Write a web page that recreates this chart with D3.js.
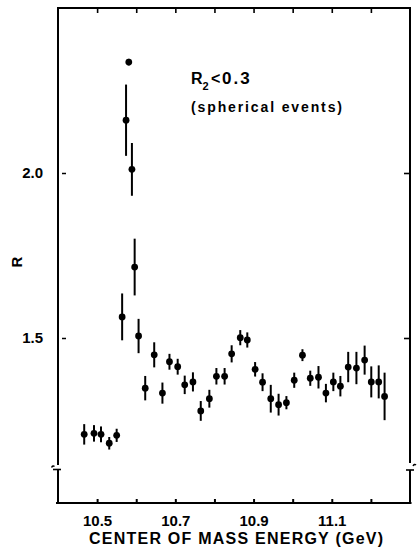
<!DOCTYPE html>
<html>
<head>
<meta charset="utf-8">
<script src="https://cdn.jsdelivr.net/npm/d3@7"></script>
<style>
  html, body { margin: 0; padding: 0; background: #fff; }
  svg { display: block; }
  text { font-family: "Liberation Sans", Arial, sans-serif; font-weight: bold; fill: #000; }
</style>
</head>
<body>
<svg id="chart" width="417" height="555"></svg>
<script>
// Centre-of-mass energy (GeV) of each scan point
const energy = [10.467, 10.492, 10.510, 10.531, 10.550, 10.564, 10.574, 10.581, 10.589, 10.596,
  10.606, 10.623, 10.646, 10.667, 10.685, 10.706, 10.724, 10.745, 10.765, 10.787,
  10.805, 10.826, 10.844, 10.866, 10.884, 10.904, 10.923, 10.944, 10.964, 10.984,
  11.004, 11.025, 11.045, 11.066, 11.085, 11.104, 11.122, 11.142, 11.163, 11.184,
  11.201, 11.220, 11.235];
// Measured R for spherical events (R2 < 0.3)
const ratio = [1.208, 1.211, 1.208, 1.181, 1.205, 1.564, 2.160, 2.336, 2.011, 1.715,
  1.506, 1.348, 1.449, 1.333, 1.428, 1.413, 1.358, 1.367, 1.279, 1.316,
  1.384, 1.384, 1.452, 1.501, 1.494, 1.405, 1.366, 1.316, 1.298, 1.304,
  1.372, 1.448, 1.378, 1.381, 1.333, 1.367, 1.354, 1.412, 1.409, 1.433,
  1.367, 1.367, 1.323];
// Statistical error on R
const ratioErr = [0.031, 0.025, 0.024, 0.019, 0.020, 0.071, 0.108, 0.010, 0.080, 0.086,
  0.052, 0.037, 0.038, 0.032, 0.024, 0.024, 0.028, 0.029, 0.030, 0.027,
  0.025, 0.025, 0.026, 0.023, 0.023, 0.022, 0.027, 0.042, 0.033, 0.020,
  0.023, 0.018, 0.023, 0.034, 0.028, 0.028, 0.031, 0.046, 0.049, 0.044,
  0.047, 0.050, 0.072];

const xTicks = [10.5, 10.6, 10.7, 10.8, 10.9, 11.0, 11.1, 11.2];
const xTickLabels = ["10.5", "10.7", "10.9", "11.1"];
const yTicks = [1.5, 2.0];
const yTickLabels = ["1.5", "2.0"];

const svg = d3.select("#chart");
const plotLeft = 58, plotRight = 410, plotTop = 8, plotBottom = 503;

const x = d3.scaleLinear().domain([10.4, 11.3]).range([plotLeft, plotRight]);
const y = d3.scaleLinear().domain([1.0, 2.5]).range([plotBottom, plotTop]);

const labelFor = v => {
  const s = d3.format(".1f")(v);
  return xTickLabels.includes(s) ? s : "";
};

// frame with axis breaks near the bottom on both sides
const frame = svg.append("g").attr("stroke", "#000").attr("fill", "none").attr("stroke-width", 2);
frame.append("path").attr("d", `M${plotLeft},${plotTop} H${plotRight}`);
frame.append("path").attr("d", `M${plotLeft - 2},${plotBottom} H${plotRight + 1.5}`);
frame.append("path").attr("d", `M${plotLeft},${plotTop - 1} V465`);
frame.append("path").attr("d", `M${plotLeft},469.5 V${plotBottom}`);
frame.append("path").attr("d", `M53,469.5 H61`).attr("stroke-width", 1.6);
frame.append("path").attr("d", `M51.5,467.5 q1.5,-2.5 3,-1`).attr("stroke-width", 1.4);
frame.append("path").attr("d", `M${plotRight},${plotTop - 1} V463`);
frame.append("path").attr("d", `M${plotRight},470 V${plotBottom}`);
frame.append("path").attr("d", `M406,470 H414`).attr("stroke-width", 1.6);
frame.append("path").attr("d", `M413,466 q1.5,-2.5 3,-1`).attr("stroke-width", 1.4);

// bottom axis: inward ticks and energy labels
const xAxis = svg.append("g")
  .attr("transform", `translate(0,${plotBottom})`)
  .call(d3.axisBottom(x).tickValues(xTicks).tickSize(-4).tickPadding(12).tickFormat(labelFor));
xAxis.select(".domain").remove();
xAxis.selectAll("line").attr("stroke-width", 2);
xAxis.selectAll("text").attr("font-size", 15).attr("font-family", null);

// top axis ticks
const xTop = svg.append("g")
  .attr("transform", `translate(0,${plotTop})`)
  .call(d3.axisBottom(x).tickValues(xTicks).tickSize(5).tickFormat(""));
xTop.select(".domain").remove();
xTop.selectAll("line").attr("stroke-width", 1.6);

// left axis labels
const yAxis = svg.append("g")
  .attr("transform", `translate(${plotLeft},0)`)
  .call(d3.axisLeft(y).tickValues(yTicks).tickSize(0).tickPadding(15)
    .tickFormat((d, i) => yTickLabels[i]));
yAxis.select(".domain").remove();
yAxis.selectAll("text").attr("font-size", 15).attr("font-family", null);

// small detached ticks inside the left edge
const yIn = svg.append("g")
  .attr("transform", `translate(${plotLeft + 4},0)`)
  .call(d3.axisRight(y).tickValues(yTicks).tickSize(4).tickFormat(""));
yIn.select(".domain").remove();
yIn.selectAll("line").attr("stroke-width", 1.5);

// ticks on the right edge
const yRight = svg.append("g")
  .attr("transform", `translate(${plotRight - 1},0)`)
  .call(d3.axisLeft(y).tickValues(yTicks).tickSize(5).tickFormat(""));
yRight.select(".domain").remove();
yRight.selectAll("line").attr("stroke-width", 1.6);

// axis titles
svg.append("text")
  .attr("x", 89).attr("y", 544)
  .attr("font-size", 16)
  .attr("textLength", 294).attr("lengthAdjust", "spacing")
  .text("CENTER OF MASS ENERGY (GeV)");

svg.append("text")
  .attr("transform", "translate(22,262) rotate(-90)")
  .attr("text-anchor", "middle")
  .attr("font-size", 15)
  .text("R");

// selection-cut annotation
const ann = svg.append("text").attr("y", 84).attr("font-size", 16);
ann.append("tspan").attr("x", 191).text("R");
ann.append("tspan").attr("dy", 6).attr("font-size", 11).text("2");
ann.append("tspan").attr("x", 211).attr("dy", -6).text("<");
ann.append("tspan").attr("x", 222).attr("letter-spacing", 2).attr("font-size", 17).text("0.3");

svg.append("text")
  .attr("x", 191).attr("y", 112)
  .attr("font-size", 14)
  .attr("textLength", 151).attr("lengthAdjust", "spacing")
  .text("(spherical events)");

// data points with error bars
const pts = energy.map((e, i) => ({ e, r: ratio[i], err: ratioErr[i] }));
const g = svg.append("g");
g.selectAll("line.err").data(pts).join("line")
  .attr("class", "err")
  .attr("x1", d => x(d.e)).attr("x2", d => x(d.e))
  .attr("y1", d => y(d.r + d.err)).attr("y2", d => y(d.r - d.err))
  .attr("stroke", "#000").attr("stroke-width", 2);
g.selectAll("circle").data(pts).join("circle")
  .attr("cx", d => x(d.e)).attr("cy", d => y(d.r))
  .attr("r", 3.4).attr("fill", "#000");
</script>
</body>
</html>
